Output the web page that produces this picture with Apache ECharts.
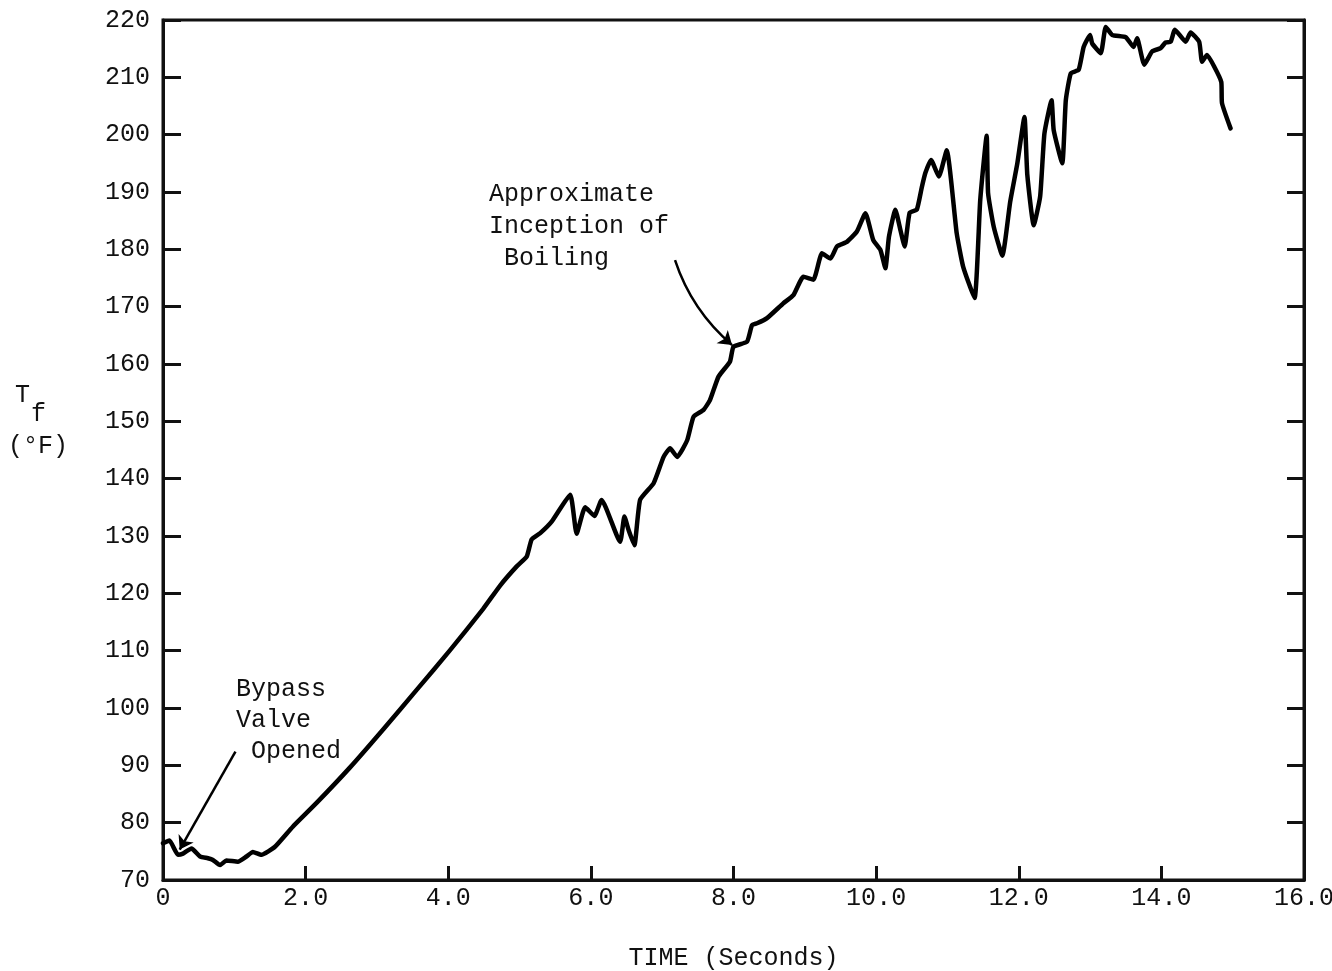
<!DOCTYPE html>
<html>
<head>
<meta charset="utf-8">
<title>Fluid temperature vs time</title>
<script src="https://cdn.jsdelivr.net/npm/echarts@6/dist/echarts.min.js"></script>
<style>
  html, body { margin: 0; padding: 0; background: #fff; }
  #chart { width: 1332px; height: 971px; }
</style>
</head>
<body>
<div id="chart"></div>
<script>
// Time in seconds
const timeSec = [
  0.00, 0.09, 0.21, 0.28, 0.40, 0.52, 0.63, 0.70, 0.80, 0.89,
  1.05, 1.17, 1.26, 1.38, 1.57, 1.82, 2.15, 2.62, 3.09, 3.56,
  4.02, 4.49, 4.73, 4.96, 5.10, 5.17, 5.29, 5.45, 5.71, 5.80,
  5.92, 6.05, 6.15, 6.41, 6.47, 6.53, 6.61, 6.69, 6.88, 7.02,
  7.11, 7.21, 7.35, 7.44, 7.58, 7.67, 7.79, 7.95, 8.00, 8.19,
  8.26, 8.33, 8.47, 8.70, 8.84, 8.98, 9.12, 9.24, 9.36, 9.45,
  9.59, 9.73, 9.85, 9.96, 10.06, 10.13, 10.18, 10.27, 10.34, 10.40,
  10.47, 10.57, 10.64, 10.69, 10.77, 10.88, 10.99, 11.13, 11.22, 11.38,
  11.46, 11.55, 11.57, 11.65, 11.77, 11.88, 11.98, 12.08, 12.12, 12.21,
  12.30, 12.36, 12.46, 12.49, 12.61, 12.66, 12.73, 12.84, 12.91, 13.00,
  13.03, 13.15, 13.22, 13.31, 13.50, 13.61, 13.66, 13.76, 13.87, 13.99,
  14.06, 14.13, 14.19, 14.34, 14.41, 14.53, 14.57, 14.64, 14.74, 14.84,
  14.85, 14.97
];

// Fluid temperature Tf in degrees F
const tempF = [
  76.4, 76.9, 74.4, 74.6, 75.5, 74.1, 73.8, 73.5, 72.6, 73.4,
  73.2, 74.1, 74.9, 74.4, 75.8, 79.3, 83.4, 89.6, 96.3, 103.2,
  110.0, 117.3, 121.4, 124.7, 126.4, 129.4, 130.5, 132.5, 137.2, 130.4,
  135.0, 133.5, 136.3, 129.0, 133.4, 131.0, 128.4, 136.3, 139.2, 143.8,
  145.3, 143.8, 146.7, 150.8, 152.0, 153.7, 157.8, 160.4, 163.0, 163.9,
  166.8, 167.1, 168.0, 170.6, 172.0, 175.2, 174.7, 179.3, 178.4, 180.5,
  181.3, 183.1, 186.3, 181.6, 179.9, 176.7, 182.2, 186.9, 183.4, 180.5,
  186.4, 186.9, 190.8, 193.3, 195.6, 192.7, 197.3, 182.8, 177.0, 171.5,
  188.6, 199.8, 189.8, 183.9, 178.9, 188.3, 195.0, 203.1, 193.0, 184.2,
  189.2, 200.2, 206.0, 200.8, 195.0, 206.0, 210.7, 211.3, 215.3, 217.4,
  215.9, 214.2, 218.8, 217.4, 217.0, 215.3, 216.8, 212.2, 214.5, 215.1,
  216.1, 216.2, 218.3, 216.2, 217.8, 216.2, 212.7, 213.9, 211.9, 209.2,
  205.5, 201.1
];

// Axis tick values
const xTicks = [0, 2, 4, 6, 8, 10, 12, 14, 16];
const yTicks = [70, 80, 90, 100, 110, 120, 130, 140, 150, 160, 170, 180, 190, 200, 210, 220];

// Annotation arrows: [start, end] in (time, temperature)
const bypassArrow = [[1.016, 92.4], [0.234, 75.3]];
const boilingArrow = [[7.18, 178.1], [7.98, 163.3]];

const FONT = '"Liberation Mono", "DejaVu Sans Mono", monospace';
const INK = '#111';

const chart = echarts.init(document.getElementById('chart'));

const seriesData = timeSec.map((t, i) => [t, tempF[i]]);

const baseY = {
  type: 'value',
  min: yTicks[0],
  max: yTicks[yTicks.length - 1],
  interval: 10,
  splitLine: { show: false },
  axisLine: { show: true, lineStyle: { color: INK, width: 3 } },
  axisTick: { show: true, inside: true, length: 18, lineStyle: { color: INK, width: 3 } }
};

chart.setOption({
  animation: false,
  backgroundColor: '#fff',
  grid: {
    left: 163, right: 28, top: 20, bottom: 91,
    outerBoundsMode: 'none',
    containLabel: false,
    show: true, borderColor: INK, borderWidth: 3, backgroundColor: 'transparent'
  },
  xAxis: {
    type: 'value',
    min: xTicks[0],
    max: xTicks[xTicks.length - 1],
    interval: 2,
    splitLine: { show: false },
    axisLine: { show: true, onZero: false, lineStyle: { color: INK, width: 3 } },
    axisTick: { show: true, inside: true, length: 14, lineStyle: { color: INK, width: 3 } },
    axisLabel: {
      margin: 6,
      color: INK,
      fontFamily: FONT,
      fontSize: 25,
      formatter: v => (v === 0 ? '0' : v.toFixed(1))
    },
    name: 'TIME (Seconds)',
    nameLocation: 'middle',
    nameGap: 66,
    nameTextStyle: { color: INK, fontFamily: FONT, fontSize: 25 }
  },
  yAxis: [
    Object.assign({}, baseY, {
      position: 'left',
      axisLabel: { margin: 13, color: INK, fontFamily: FONT, fontSize: 25 }
    }),
    Object.assign({}, baseY, {
      position: 'right',
      axisLabel: { show: false },
      axisTick: { show: true, inside: true, length: 17, lineStyle: { color: INK, width: 3 } }
    })
  ],
  series: [
    {
      type: 'line',
      data: seriesData,
      showSymbol: false,
      smooth: 0.15,
      lineStyle: { color: '#000', width: 4.5, join: 'round', cap: 'round' },
      z: 5
    },
    {
      type: 'lines',
      coordinateSystem: 'cartesian2d',
      symbol: ['none', 'arrow'],
      symbolSize: 13,
      lineStyle: { color: '#000', width: 2.5, opacity: 1 },
      data: [
        { coords: bypassArrow, lineStyle: { curveness: 0 } },
        { coords: boilingArrow, lineStyle: { curveness: -0.14 } }
      ],
      z: 6
    }
  ],
  graphic: [
    {
      type: 'text', left: 489, top: 178,
      style: {
        text: 'Approximate\nInception of\n Boiling',
        font: '25px ' + FONT, fill: INK, lineHeight: 32
      }
    },
    {
      type: 'text', left: 236, top: 674,
      style: {
        text: 'Bypass\nValve\n Opened',
        font: '25px ' + FONT, fill: INK, lineHeight: 31
      }
    },
    {
      type: 'text', left: 15, top: 383,
      style: { text: 'T', font: '25px ' + FONT, fill: INK }
    },
    {
      type: 'text', left: 31, top: 402,
      style: { text: 'f', font: '25px ' + FONT, fill: INK }
    },
    {
      type: 'text', left: 8, top: 434,
      style: { text: '(°F)', font: '25px ' + FONT, fill: INK }
    }
  ]
});
</script>
</body>
</html>
